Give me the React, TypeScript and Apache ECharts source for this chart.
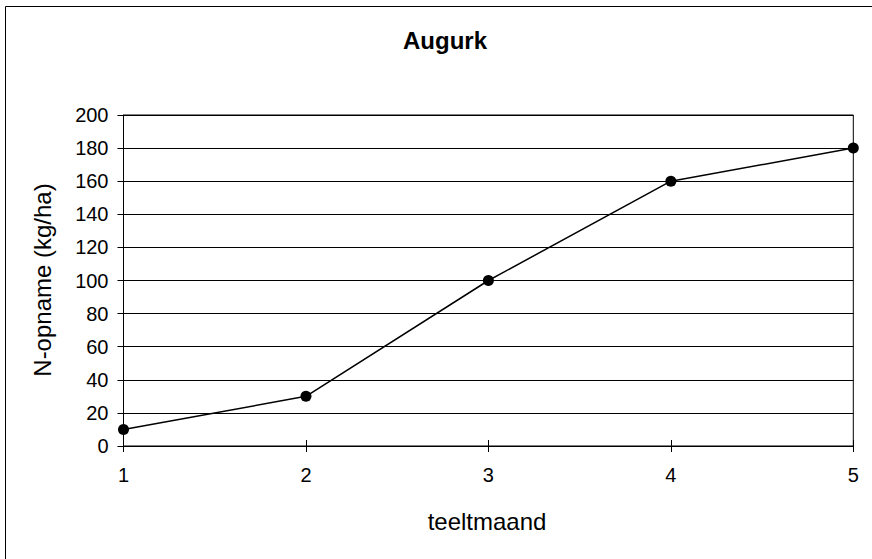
import React, { useEffect, useRef } from "react";
import * as echarts from "echarts";

const categories = ["1", "2", "3", "4", "5"];
const nOpname = [10, 30, 100, 160, 180];
const yTicks = { min: 0, max: 200, interval: 20 };
const titleText = "Augurk";
const xName = "teeltmaand";
const yName = "N-opname (kg/ha)";

const FONT = "Liberation Sans, Arial, sans-serif";

export default function App() {
  const ref = useRef<HTMLDivElement>(null);
  useEffect(() => {
    document.body.style.margin = "0";
    if (!ref.current) return;
    const chart = echarts.init(ref.current, null, { renderer: "svg" });
    chart.setOption({
      animation: false,
      backgroundColor: "#ffffff",
      grid: {
        left: 123.5,
        right: 18.7,
        top: 115,
        bottom: 113,
        show: true,
        borderColor: "#000",
        borderWidth: 1,
        backgroundColor: "transparent",
      },
      xAxis: [
        {
          type: "category",
          data: categories,
          boundaryGap: false,
          axisLine: { lineStyle: { color: "#000", width: 1 } },
          axisTick: { show: true, length: 6, lineStyle: { color: "#000" }, alignWithLabel: true },
          axisLabel: { color: "#000", fontSize: 20, fontFamily: FONT, margin: 19 },
          splitLine: { show: false },
        },
        {
          type: "category",
          data: categories,
          boundaryGap: false,
          position: "bottom",
          axisLine: { show: false },
          axisTick: { show: true, inside: true, length: 6, lineStyle: { color: "#000" } },
          axisLabel: { show: false },
          splitLine: { show: false },
        },
      ],
      yAxis: {
        type: "value",
        min: yTicks.min,
        max: yTicks.max,
        interval: yTicks.interval,
        axisLine: { show: true, lineStyle: { color: "#000", width: 1 } },
        axisTick: { show: true, length: 6, lineStyle: { color: "#000" } },
        axisLabel: { color: "#000", fontSize: 20, fontFamily: FONT, margin: 15 },
        splitLine: { show: true, lineStyle: { color: "#000", width: 1 } },
      },
      graphic: [
        {
          type: "rect",
          shape: { x: 5.5, y: 6.5, width: 1000, height: 1000 },
          style: { fill: "none", stroke: "#000", lineWidth: 1 },
          silent: true,
        },
        {
          type: "text",
          x: 445,
          y: 40,
          style: {
            text: titleText,
            font: `bold 24px ${FONT}`,
            fill: "#000",
            textAlign: "center",
            textVerticalAlign: "middle",
          },
        },
        {
          type: "text",
          x: 487,
          y: 521,
          style: {
            text: xName,
            font: `24px ${FONT}`,
            fill: "#000",
            textAlign: "center",
            textVerticalAlign: "middle",
          },
        },
        {
          type: "text",
          x: 42,
          y: 280,
          rotation: Math.PI / 2,
          style: {
            text: yName,
            font: `24px ${FONT}`,
            fill: "#000",
            textAlign: "center",
            textVerticalAlign: "middle",
          },
        },
      ],
      series: [
        {
          type: "line",
          data: nOpname,
          xAxisIndex: 0,
          symbol: "circle",
          symbolSize: 11,
          lineStyle: { color: "#000", width: 1.5 },
          itemStyle: { color: "#000" },
          z: 5,
        },
      ],
    });
    return () => chart.dispose();
  }, []);
  return <div ref={ref} style={{ width: 872, height: 559 }} />;
}
